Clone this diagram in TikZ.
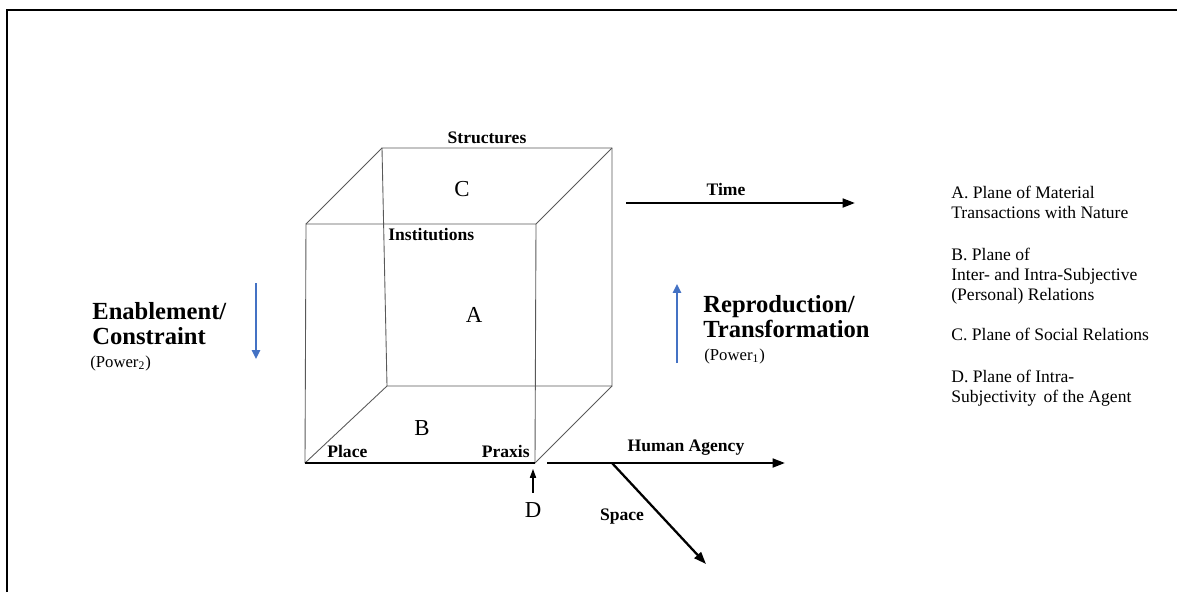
\documentclass[tikz,border=0pt]{standalone}
\usepackage{fontspec}
\setmainfont{Liberation Serif}
\usetikzlibrary{arrows.meta,positioning}
\definecolor{powerblue}{HTML}{4472C4}
\tikzstyle{edge} = [draw=black!65, line width=0.5pt]
\tikzstyle{arrow} = [line width=1.3pt, -{Triangle[length=7pt,width=5pt]}]
\tikzstyle{thinarrow} = [line width=0.6pt, -{Triangle[length=5pt,width=3.5pt]}]
\tikzstyle{bluearrow} = [draw=powerblue, line width=1.2pt, -{Triangle[length=5pt,width=4.5pt]}, powerblue]
\tikzstyle{lbl} = [inner sep=0pt, anchor=base, font=\fontsize{10}{12}\selectfont\bfseries]
\tikzstyle{plane} = [inner sep=0pt, anchor=base, font=\fontsize{13}{15}\selectfont]
\tikzstyle{big} = [inner sep=0pt, align=left, anchor=north west, font=\fontsize{14}{14.5}\selectfont\bfseries]
\tikzstyle{power} = [inner sep=0pt, anchor=base west, font=\fontsize{9.5}{11}\selectfont]
\tikzstyle{legend} = [inner sep=0pt, align=left, anchor=north west, font=\fontsize{10}{11.4}\selectfont]

\begin{document}
\begin{tikzpicture}[x=0.02cm, y=-0.02cm]
    \useasboundingbox (0,0) rectangle (1177,592);
    % frame
    \draw[line width=1.4pt] (7,592) -- (7,10) -- (1177,10);

    % cube corners
    \coordinate (ftl) at (306,224);
    \coordinate (ftr) at (536,224);
    \coordinate (fbl) at (305,463);
    \coordinate (fbr) at (535,463);
    \coordinate (btl) at (382,148);
    \coordinate (btr) at (612,148);
    \coordinate (bbl) at (387,386);
    \coordinate (bbr) at (612,386);

    \draw[edge] (btl) -- (btr) -- (bbr) -- (bbl) -- cycle;
    \draw[edge] (fbl) -- (ftl) -- (ftr) -- (fbr);
    \draw[edge] (ftl) -- (btl);
    \draw[edge] (ftr) -- (btr);
    \draw[edge] (fbl) -- (bbl);
    \draw[edge] (fbr) -- (bbr);
    \draw[line width=0.8pt] (fbl) -- (fbr);

    % cube labels
    \node[lbl] (structures) at (487,143) {Structures};
    \node[lbl, anchor=base west] (institutions) at (388,240) {Institutions};
    \node[lbl, anchor=base west] (place) at (327,457) {Place};
    \node[lbl, anchor=base east] (praxis) at (530,457) {Praxis};
    \node[plane] (C) at (462,196) {C};
    \node[plane] (A) at (474,322) {A};
    \node[plane] (B) at (422,435) {B};
    \node[plane] (D) at (533,517) {D};
    \draw[thinarrow] ([yshift=5pt]D.north) -- ([yshift=-3.4pt]D.north |- fbr);

    % axes
    \coordinate (time s) at (626,203);
    \coordinate (time e) at (855,203);
    \coordinate (agency s) at (547,463);
    \coordinate (agency e) at (785,463);
    \coordinate (space s) at (612,463);
    \coordinate (space e) at (706,564);
    \draw[arrow] (time s) -- (time e);
    \draw[arrow] (agency s) -- (agency e);
    \draw[arrow] (space s) -- (space e);
    \node[lbl] (time) at (726,195) {Time};
    \node[lbl] (agency) at (686,451) {Human Agency};
    \node[lbl] (space) at (622,520) {Space};

    % power
    \node[big] (enab) at (92,302) {Enablement/\\Constraint};
    \node[power] (enabpow) at (90,367) {(Power\textsubscript{2})};
    \coordinate (enab top) at (256,283);
    \coordinate (enab bot) at (256,359);
    \draw[bluearrow] (enab top) -- (enab bot);

    \node[big] (repro) at (703,295) {Reproduction/\\Transformation};
    \node[power] (repropow) at (704,360) {(Power\textsubscript{1})};
    \coordinate (repro bot) at (677,363);
    \coordinate (repro top) at (677,284);
    \draw[bluearrow] (repro bot) -- (repro top);

    % planes
    \node[legend] (planeA) at (951,186) {A. Plane of Material\\Transactions with Nature};
    \node[legend] (planeB) at (951,248) {B. Plane of\\Inter- and Intra-Subjective\\(Personal) Relations};
    \node[legend] (planeC) at (951,328) {C. Plane of Social Relations};
    \node[legend] (planeD) at (951,370) {D. Plane of Intra-\\Subjectivity\, of the Agent};
\end{tikzpicture}
\end{document}
